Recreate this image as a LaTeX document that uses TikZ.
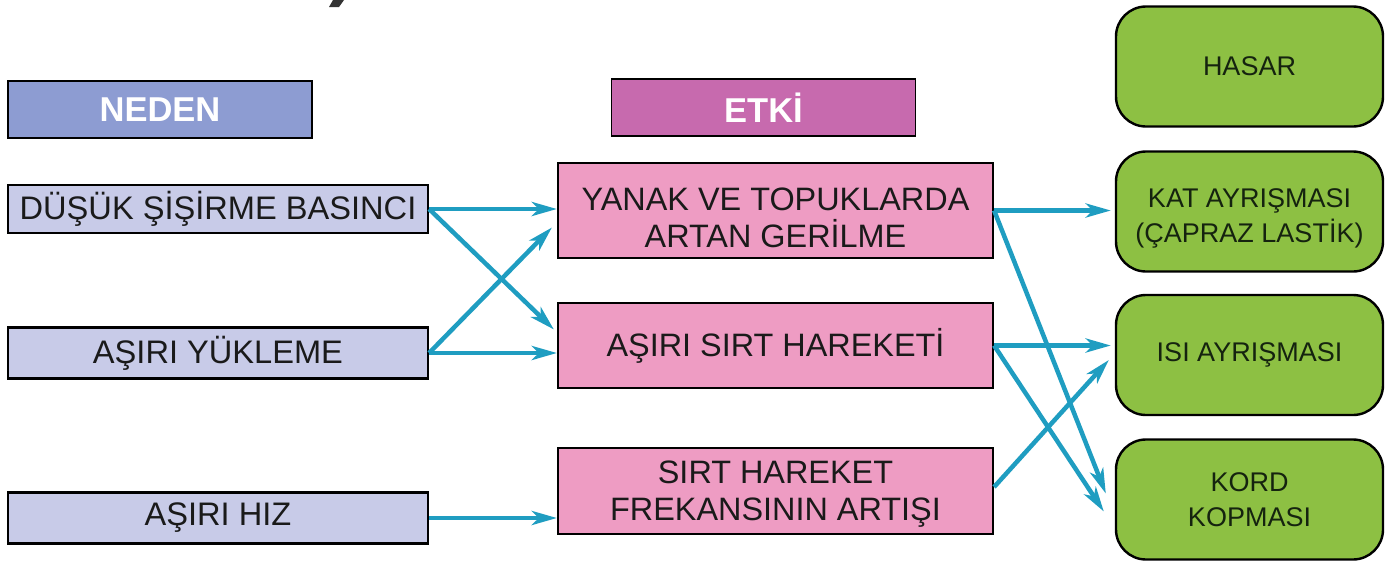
\documentclass[tikz,border=0pt]{standalone}
\usepackage{fontspec}
\setmainfont{Liberation Sans}
\usetikzlibrary{arrows.meta,calc}
\definecolor{hdrblue}{HTML}{8D9CD2}
\definecolor{causefill}{HTML}{C8CBE8}
\definecolor{hdrpink}{HTML}{C76AAE}
\definecolor{effectfill}{HTML}{EE9CC3}
\definecolor{dmgfill}{HTML}{8DC043}
\definecolor{arrowcol}{HTML}{1F9DC1}
\definecolor{txt}{HTML}{1A1A1A}
\definecolor{dmgtxt}{HTML}{15230F}
\begin{document}
\begin{tikzpicture}[x=1pt,y=-1pt,
  header/.style={draw=black,line width=1.6pt,inner sep=0pt,minimum width=304pt,minimum height=57pt,text=white,font=\fontsize{34.5}{38}\bfseries\selectfont},
  cause/.style={draw=black,line width=2.2pt,fill=causefill,minimum width=420pt,minimum height=48pt,inner sep=0pt,text=txt,font=\fontsize{32.6}{36}\selectfont},
  effect/.style={draw=black,line width=2.2pt,fill=effectfill,minimum width=435pt,inner sep=0pt,text=txt,align=center,font=\fontsize{32.4}{37}\selectfont},
  effecttext/.style={inner sep=0pt,text=txt,align=center,font=\fontsize{32.4}{37}\selectfont},
  damage/.style={draw=black,line width=2.4pt,fill=dmgfill,rounded corners=30pt,minimum width=267pt,minimum height=120pt,inner sep=0pt,text=dmgtxt,align=center,font=\fontsize{27}{35}\selectfont},
  damagetext/.style={inner sep=0pt,text=dmgtxt,align=center,font=\fontsize{27}{35}\selectfont},
  arr/.style={draw=arrowcol,line width=4.5pt,-{Stealth[length=25pt,width=14pt,inset=7pt]}}]
\useasboundingbox (0,0) rectangle (1398,584);
\fill[white] (0,0) rectangle (1398,584);
% cut-off mark at top
\fill[black!80] (333,0) -- (344,0) -- (339,7) -- (329,7) -- cycle;
% headers
\node[header,fill=hdrblue] (hn) at (160,109.5) {NEDEN};
\node[header,fill=hdrpink] (he) at (763.5,107.5) {ETKİ};
\node[damage] (hd) at (1249.5,66.5) {HASAR};
% causes
\node[cause] (c1) at (218,209) {DÜŞÜK ŞİŞİRME BASINCI};
\node[cause,minimum height=51pt] (c2) at (218,353) {AŞIRI YÜKLEME};
\node[cause,minimum height=51pt] (c3) at (218,518) {AŞIRI HIZ};
% effects
\node[effect,minimum height=95pt] (e1) at (775.5,210.5) {};
\node[effecttext] (e1t) at ($(e1.center)+(0,7)$) {YANAK VE TOPUKLARDA\\ARTAN GERİLME};
\node[effect,minimum height=85pt] (e2) at (775.5,345.5) {AŞIRI SIRT HAREKETİ};
\node[effect,minimum height=86pt] (e3) at (775.5,491) {};
\node[effecttext] (e3t) at ($(e3.center)+(0,3)$) {SIRT HAREKET\\FREKANSININ ARTIŞI};
% damages
\node[damage] (g1) at (1249.5,211.5) {};
\node[damagetext] (g1t) at ($(g1.center)+(0,7)$) {KAT AYRIŞMASI\\(ÇAPRAZ LASTİK)};
\node[damage] (g2) at (1249.5,355) {ISI AYRIŞMASI};
\node[damage] (g3) at (1249.5,499.5) {KORD\\KOPMASI};
% arrows cause -> effect
\draw[arr] (c1.east) -- (e1.west |- c1.east);
\draw[arr] (c1.east) -- ($(e2.west)+(-3,-16)$);
\draw[arr] (c2.east) -- (e2.west |- c2.east);
\draw[arr] (c2.east) -- ($(e1.west)+(-5,17)$);
\draw[arr] (c3.east) -- (e3.west |- c3.east);
% arrows effect -> damage
\draw[arr] (e1.east) -- ($(g1.west |- e1.east)+(-4,0)$);
\draw[arr] (e1.east) -- ($(g3.west)+(-9,-6)$);
\draw[arr] (e2.east) -- ($(g2.west |- e2.east)+(-4,0)$);
\draw[arr] (e2.east) -- ($(g3.west)+(-11,12)$);
\draw[arr] ($(e3.east)+(0,-4)$) -- ($(g2.west)+(-6,5)$);
\end{tikzpicture}
\end{document}
